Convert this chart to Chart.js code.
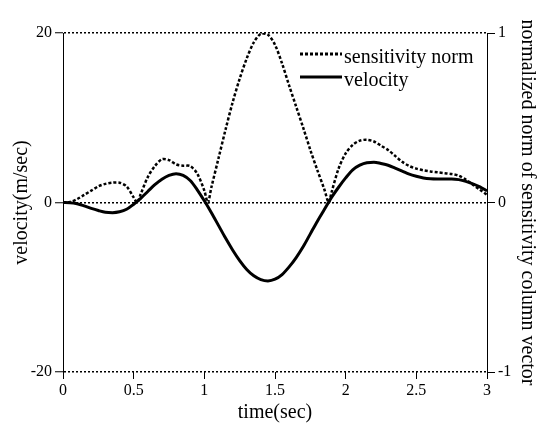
<!DOCTYPE html>
<html>

<head>
  <title>Velocity and sensitivity norm</title>
  <script src="https://cdn.jsdelivr.net/npm/chart.js"></script>
  <style>
    body { margin: 0; background: #fff; }
  </style>
</head>

<body>
  <canvas id="myChart" width="547" height="427"></canvas>
  <script>
    // time axis (sec) for the velocity curve
    const time = [0, 0.05, 0.1, 0.15, 0.2, 0.25, 0.3, 0.35, 0.4, 0.45, 0.5, 0.55, 0.6, 0.65, 0.7, 0.75, 0.8, 0.85, 0.9, 0.95,
      1.0, 1.05, 1.1, 1.15, 1.2, 1.25, 1.3, 1.35, 1.4, 1.45, 1.5, 1.55, 1.6, 1.65, 1.7, 1.75, 1.8, 1.85, 1.9, 1.95,
      2.0, 2.05, 2.1, 2.15, 2.2, 2.25, 2.3, 2.35, 2.4, 2.45, 2.5, 2.55, 2.6, 2.65, 2.7, 2.75, 2.8, 2.85, 2.9, 2.95, 3.0];
    // velocity (m/sec)
    const velocity = [0, -0.02, -0.15, -0.4, -0.7, -0.95, -1.15, -1.2, -1.1, -0.8, -0.2, 0.5, 1.3, 2.1, 2.75, 3.2, 3.4, 3.2, 2.6, 1.5,
      0.2, -1.2, -2.7, -4.2, -5.6, -6.85, -7.9, -8.65, -9.1, -9.25, -9.05, -8.5, -7.6, -6.5, -5.2, -3.7, -2.2, -0.8, 0.6, 1.8,
      2.9, 3.85, 4.4, 4.7, 4.75, 4.6, 4.4, 4.05, 3.7, 3.35, 3.1, 2.9, 2.8, 2.78, 2.78, 2.78, 2.7, 2.5, 2.2, 1.85, 1.35];

    // sensitivity norm sampled on its own time points (includes the zero dips)
    const sensTime = [0, 0.05, 0.1, 0.15, 0.2, 0.25, 0.3, 0.35, 0.4, 0.45, 0.5, 0.525, 0.55, 0.6, 0.65, 0.7, 0.75, 0.8, 0.85, 0.9, 0.95,
      1.0, 1.025, 1.05, 1.1, 1.15, 1.2, 1.25, 1.3, 1.35, 1.4, 1.45, 1.5, 1.55, 1.6, 1.65, 1.7, 1.75, 1.8, 1.85, 1.88, 1.9, 1.95,
      2.0, 2.05, 2.1, 2.15, 2.2, 2.25, 2.3, 2.35, 2.4, 2.45, 2.5, 2.55, 2.6, 2.65, 2.7, 2.75, 2.8, 2.85, 2.9, 2.95, 3.0];
    const sensNorm = [0, 0.003, 0.02, 0.045, 0.07, 0.095, 0.11, 0.117, 0.117, 0.095, 0.03, 0, 0.05, 0.15, 0.215, 0.255, 0.25, 0.225, 0.217, 0.215, 0.17,
      0.07, 0, 0.09, 0.26, 0.43, 0.59, 0.73, 0.85, 0.945, 0.995, 0.99, 0.93, 0.82, 0.69, 0.565, 0.44, 0.31, 0.19, 0.075, 0, 0.06, 0.2,
      0.29, 0.34, 0.365, 0.37, 0.36, 0.335, 0.31, 0.275, 0.24, 0.215, 0.2, 0.19, 0.183, 0.178, 0.173, 0.168, 0.158, 0.135, 0.105, 0.075, 0.045];

    const xTicks = [0, 0.5, 1, 1.5, 2, 2.5, 3];
    const yTicks = [-20, 0, 20];
    const y1Ticks = [-1, 0, 1];

    const serif = '"Liberation Serif", "Times New Roman", serif';

    // legend drawn inside the plot, stacked vertically
    const innerLegend = {
      id: 'innerLegend',
      afterDatasetsDraw(chart) {
        const ctx = chart.ctx;
        ctx.save();
        ctx.font = '20px ' + serif;
        ctx.fillStyle = '#000';
        ctx.textBaseline = 'alphabetic';
        chart.data.datasets.forEach((ds, i) => {
          const y = 54 + i * 23;
          ctx.beginPath();
          ctx.setLineDash(ds.borderDash || []);
          ctx.lineWidth = 3;
          ctx.strokeStyle = '#000';
          ctx.moveTo(300, y);
          ctx.lineTo(342, y);
          ctx.stroke();
          ctx.setLineDash([]);
          ctx.fillText(ds.label, 344, y + 9);
        });
        ctx.restore();
      }
    };

    const tickFont = { family: serif, size: 16 };
    const fmt = v => String(v);

    const ctx = document.getElementById("myChart").getContext("2d");
    const myChart = new Chart(ctx, {
      type: 'line',
      data: {
        datasets: [{
          label: 'sensitivity norm',
          data: sensTime.map((t, i) => ({ x: t, y: sensNorm[i] })),
          yAxisID: 'y1',
          borderColor: '#000',
          borderWidth: 2.5,
          borderDash: [3, 2],
          pointRadius: 0,
          tension: 0.3
        }, {
          label: 'velocity',
          data: time.map((t, i) => ({ x: t, y: velocity[i] })),
          yAxisID: 'y',
          borderColor: '#000',
          borderWidth: 3,
          pointRadius: 0,
          cubicInterpolationMode: 'monotone'
        }]
      },
      options: {
        responsive: false,
        animation: false,
        devicePixelRatio: 1,
        layout: { padding: { top: 33, left: 0, right: 0, bottom: 0 } },
        plugins: {
          legend: { display: false },
          tooltip: { enabled: false }
        },
        scales: {
          x: {
            type: 'linear',
            min: 0,
            max: 3,
            afterBuildTicks: s => { s.ticks = xTicks.map(v => ({ value: v })); },
            afterFit: s => { s.height = 55; },
            border: { display: false },
            grid: { drawOnChartArea: false, tickLength: 7, color: '#000', tickWidth: 1 },
            ticks: { color: '#000', font: tickFont, padding: 2, maxRotation: 0, callback: fmt },
            title: { display: true, text: 'time(sec)', color: '#000', font: { family: serif, size: 20 }, padding: { top: 0, bottom: 2 } }
          },
          y: {
            position: 'left',
            min: -20,
            max: 20,
            afterBuildTicks: s => { s.ticks = yTicks.map(v => ({ value: v })); },
            afterFit: s => { s.width = 63; },
            border: { display: true, color: '#000', width: 1, dash: [2, 2] },
            grid: { color: '#000', lineWidth: 1.5, tickLength: 8, tickColor: '#000', tickWidth: 1, tickBorderDash: [] },
            ticks: { color: '#000', font: tickFont, padding: 3, callback: fmt },
            title: { display: true, text: 'velocity(m/sec)', color: '#000', font: { family: serif, size: 20 }, padding: { top: 10, bottom: 0 } }
          },
          y1: {
            position: 'right',
            min: -1,
            max: 1,
            afterBuildTicks: s => { s.ticks = y1Ticks.map(v => ({ value: v })); },
            afterFit: s => { s.width = 60; },
            border: { display: true, color: '#000', width: 1 },
            grid: { drawOnChartArea: false, tickLength: 8, color: '#000', tickWidth: 1 },
            ticks: { color: '#000', font: tickFont, padding: 3, callback: fmt },
            title: { display: true, text: 'normalized norm of sensitivity column vector', color: '#000', font: { family: serif, size: 20 }, padding: { top: 8, bottom: 0 } }
          }
        }
      },
      plugins: [innerLegend]
    });
  </script>
</body>

</html>
